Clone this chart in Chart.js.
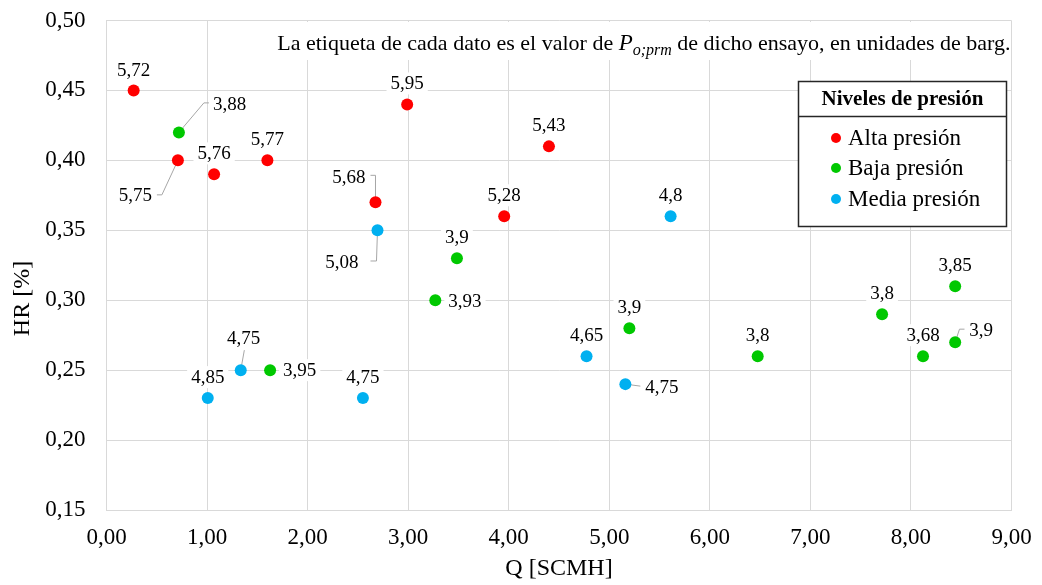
<!DOCTYPE html>
<html>
<head>
<meta charset="utf-8">
<script src="https://cdn.jsdelivr.net/npm/chart.js@4.4.1/dist/chart.umd.min.js"></script>
<style>
  html, body { margin: 0; padding: 0; background: #fff; }
  #wrap { width: 1042px; height: 585px; }
</style>
</head>
<body>
<div id="wrap"><canvas id="hrChart" width="1042" height="585"></canvas></div>
<script>
// datos de ensayo: caudal Q [SCMH], HR [%] y presión media P (barg) usada como etiqueta
const altaQ  = [0.27, 0.71, 1.07, 1.60, 2.675, 2.99, 3.955, 4.40];
const altaHR = [0.45, 0.40, 0.39, 0.40, 0.37, 0.44, 0.36, 0.41];
const altaP  = [5.72, 5.75, 5.76, 5.77, 5.68, 5.95, 5.28, 5.43];

const bajaQ  = [0.72, 3.485, 3.27, 1.627, 5.20, 6.476, 7.713, 8.12, 8.44, 8.44];
const bajaHR = [0.42, 0.33, 0.30, 0.25, 0.28, 0.26, 0.29, 0.26, 0.27, 0.31];
const bajaP  = [3.88, 3.9, 3.93, 3.95, 3.9, 3.8, 3.8, 3.68, 3.9, 3.85];

const mediaQ  = [2.695, 5.61, 1.007, 1.335, 2.55, 4.774, 5.16];
const mediaHR = [0.35, 0.36, 0.23, 0.25, 0.23, 0.26, 0.24];
const mediaP  = [5.08, 4.8, 4.85, 4.75, 4.75, 4.65, 4.75];

const seriesNames = ['Alta presión', 'Baja presión', 'Media presión'];
const xTicks = [0, 1, 2, 3, 4, 5, 6, 7, 8, 9];
const yTicks = [0.15, 0.20, 0.25, 0.30, 0.35, 0.40, 0.45, 0.50];

// colocación de etiquetas (px relativos al punto); 'l' = texto a la izquierda, 'r' = derecha, 'c' = centrado
const UP = { a: 'c', dx: 0, dy: -21 };
const altaLbl = [
  { a: 'c', dx: 0, dy: -20 },
  { a: 'l', dx: -26, dy: 35, lead: [[0, 0], [-16, 34.5], [-21, 34.5]] },
  UP, UP,
  { a: 'l', dx: -10, dy: -25, lead: [[0, 0], [0, -27], [-5, -27]] },
  UP, UP, UP
];
const bajaLbl = [
  { a: 'r', dx: 34, dy: -28, lead: [[0, 0], [25, -29.5], [30.5, -29.5]] },
  UP,
  { a: 'r', dx: 13, dy: 1 },
  { a: 'r', dx: 13, dy: 0 },
  UP, UP, UP, UP,
  { a: 'r', dx: 14, dy: -12, lead: [[0, 0], [4.3, -13], [9.3, -13]] },
  UP
];
const mediaLbl = [
  { a: 'l', dx: -19, dy: 31.5, lead: [[0, 0], [-1, 30.7], [-7, 30.7]] },
  UP, UP,
  { a: 'c', dx: 3, dy: -32, lead: [[0, 0], [3.6, -20]] },
  UP, UP,
  { a: 'r', dx: 20, dy: 2.4, lead: [[0, 0], [15, 2]] }
];

const SERIF = '"Liberation Serif", "Times New Roman", serif';
const fmt = (v, d) => (d == null ? String(v) : v.toFixed(d)).replace('.', ',');

function pts(xs, ys) { return xs.map((x, i) => ({ x: x, y: ys[i] })); }

const labelSets = [
  { vals: altaP, place: altaLbl },
  { vals: bajaP, place: bajaLbl },
  { vals: mediaP, place: mediaLbl }
];

// líneas guía debajo de los puntos
const leaderPlugin = {
  id: 'leaders',
  beforeDatasetsDraw(chart) {
    const ctx = chart.ctx;
    ctx.save();
    ctx.strokeStyle = '#a6a6a6';
    ctx.lineWidth = 1;
    labelSets.forEach((set, di) => {
      chart.getDatasetMeta(di).data.forEach((el, i) => {
        const p = set.place[i];
        if (!p || !p.lead) return;
        ctx.beginPath();
        p.lead.forEach((o, k) => {
          if (k === 0) ctx.moveTo(el.x + o[0], el.y + o[1]);
          else ctx.lineTo(el.x + o[0], el.y + o[1]);
        });
        ctx.stroke();
      });
    });
    ctx.restore();
  }
};

// etiquetas de datos con fondo blanco
const labelPlugin = {
  id: 'dataLabels',
  afterDatasetsDraw(chart) {
    const ctx = chart.ctx;
    ctx.save();
    ctx.font = '19px ' + SERIF;
    ctx.textBaseline = 'middle';
    labelSets.forEach((set, di) => {
      chart.getDatasetMeta(di).data.forEach((el, i) => {
        const p = set.place[i];
        const txt = fmt(set.vals[i]);
        const w = ctx.measureText(txt).width;
        let left;
        if (p.a === 'c') left = el.x + p.dx - w / 2;
        else if (p.a === 'l') left = el.x + p.dx - w;
        else left = el.x + p.dx;
        const cy = el.y + p.dy;
        ctx.fillStyle = '#fff';
        ctx.fillRect(left - 4, cy - 11, w + 8, 22);
        ctx.fillStyle = '#000';
        ctx.textAlign = 'left';
        ctx.fillText(txt, left, cy + 1);
      });
    });
    ctx.restore();
  }
};

// nota superior, leyenda con título y títulos de ejes
const decorPlugin = {
  id: 'decor',
  afterDraw(chart) {
    const ctx = chart.ctx;
    const area = chart.chartArea;
    ctx.save();

    // nota
    const parts = [
      { t: 'La etiqueta de cada dato es el valor de ', f: '22px ' + SERIF, dy: 0 },
      { t: 'P', f: 'italic 23px ' + SERIF, dy: 0 },
      { t: 'o;prm', f: 'italic 16px ' + SERIF, dy: 5 },
      { t: ' de dicho ensayo, en unidades de barg.', f: '22px ' + SERIF, dy: 0 }
    ];
    let total = 0;
    parts.forEach(p => { ctx.font = p.f; p.w = ctx.measureText(p.t).width; total += p.w; });
    let x = area.right - 1 - total;
    ctx.fillStyle = '#fff';
    ctx.fillRect(x - 4, area.top + 1.5, area.right - x + 2, 38);
    ctx.fillStyle = '#000';
    ctx.textBaseline = 'alphabetic';
    ctx.textAlign = 'left';
    parts.forEach(p => {
      ctx.font = p.f;
      ctx.fillText(p.t, x, 50 + p.dy);
      x += p.w;
    });

    // leyenda
    const bx = 798.5, by = 81.5, bw = 208, bh = 145;
    ctx.fillStyle = '#fff';
    ctx.fillRect(bx, by, bw, bh);
    ctx.strokeStyle = '#262626';
    ctx.lineWidth = 1.5;
    ctx.strokeRect(bx, by, bw, bh);
    ctx.beginPath();
    ctx.moveTo(bx, 116.5);
    ctx.lineTo(bx + bw, 116.5);
    ctx.stroke();
    ctx.fillStyle = '#000';
    ctx.font = 'bold 21px ' + SERIF;
    ctx.textAlign = 'center';
    ctx.textBaseline = 'middle';
    ctx.fillText('Niveles de presión', 902.5, 100);
    ctx.font = '23px ' + SERIF;
    ctx.textAlign = 'left';
    const rowY = [138, 168, 199];
    chart.data.datasets.forEach((ds, i) => {
      ctx.fillStyle = ds.backgroundColor;
      ctx.beginPath();
      ctx.arc(836, rowY[i], 5, 0, Math.PI * 2);
      ctx.fill();
      ctx.fillStyle = '#000';
      ctx.fillText(ds.label, 848, rowY[i] + 1);
    });

    // títulos de ejes
    ctx.font = '24px ' + SERIF;
    ctx.textAlign = 'center';
    ctx.fillText('Q [SCMH]', (area.left + area.right) / 2, 569);
    ctx.translate(23, 298.5);
    ctx.rotate(-Math.PI / 2);
    ctx.fillText('HR [%]', 0, 0);
    ctx.restore();
  }
};

const colors = ['#ff0000', '#00c800', '#00b0f0'];

new Chart(document.getElementById('hrChart'), {
  type: 'scatter',
  data: {
    datasets: [
      { label: seriesNames[0], data: pts(altaQ, altaHR) },
      { label: seriesNames[1], data: pts(bajaQ, bajaHR) },
      { label: seriesNames[2], data: pts(mediaQ, mediaHR) }
    ].map((d, i) => Object.assign(d, {
      backgroundColor: colors[i],
      borderColor: colors[i],
      borderWidth: 0,
      pointRadius: 6,
      pointHoverRadius: 6
    }))
  },
  options: {
    responsive: false,
    animation: false,
    events: [],
    layout: { padding: { top: 20.5, right: 30.5, left: 0, bottom: 0 } },
    plugins: { legend: { display: false }, tooltip: { enabled: false } },
    scales: {
      x: {
        type: 'linear', min: 0, max: 9,
        afterBuildTicks: s => { s.ticks = xTicks.map(v => ({ value: v })); },
        afterFit: s => { s.height = 75; s.paddingLeft = 0; s.paddingRight = 0; },
        ticks: { callback: v => fmt(v, 2), color: '#000', font: { family: SERIF, size: 23 }, padding: 14, maxRotation: 0 },
        grid: { color: '#d9d9d9', drawTicks: false },
        border: { color: '#d9d9d9' }
      },
      y: {
        type: 'linear', min: 0.15, max: 0.5,
        afterBuildTicks: s => { s.ticks = yTicks.map(v => ({ value: v })); },
        afterFit: s => { s.width = 106.5; s.paddingTop = 0; s.paddingBottom = 0; },
        ticks: { callback: v => fmt(v, 2), color: '#000', font: { family: SERIF, size: 23 }, padding: 21 },
        grid: { color: '#d9d9d9', drawTicks: false },
        border: { color: '#d9d9d9' }
      }
    }
  },
  plugins: [leaderPlugin, labelPlugin, decorPlugin]
});
</script>
</body>
</html>
